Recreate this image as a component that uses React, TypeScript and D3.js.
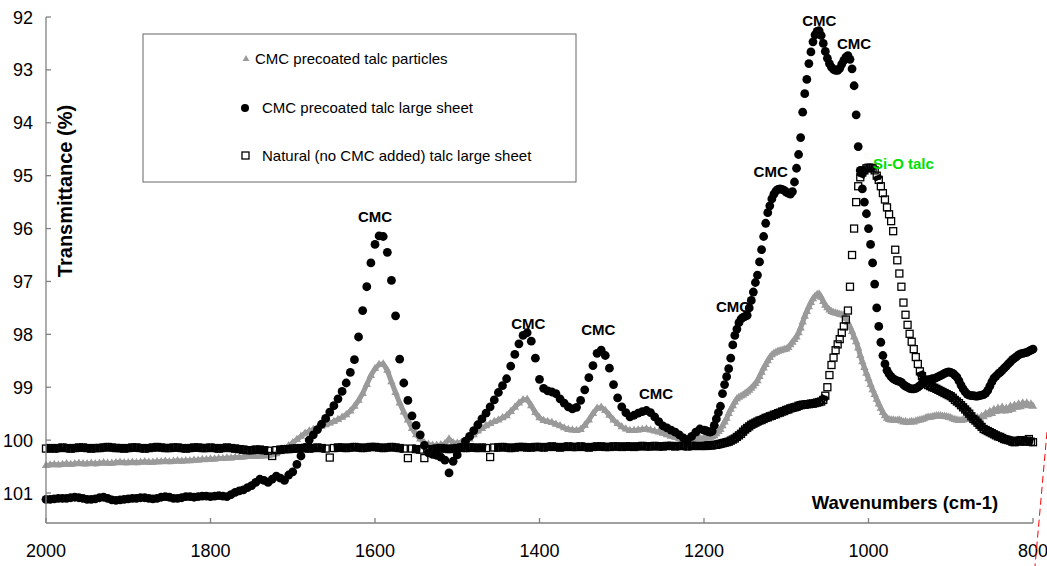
import React from "react";
import * as d3 from "d3";

// x grid: 2000→1200 every 5 cm-1, then 1197.5→800 every 2.5 cm-1
const wavenumbers: number[] = [...d3.range(2000, 1199, -5), ...d3.range(1197.5, 799, -2.5)];

// CMC precoated talc particles (grey triangles)
const particlesValues: number[] = [
  100.48, 100.47, 100.46, 100.47, 100.46, 100.45, 100.46, 100.45, 100.44, 100.45,
  100.45, 100.44, 100.45, 100.44, 100.43, 100.44, 100.44, 100.43, 100.42, 100.43,
  100.43, 100.42, 100.43, 100.42, 100.41, 100.42, 100.42, 100.41, 100.41, 100.40,
  100.41, 100.40, 100.39, 100.40, 100.39, 100.39, 100.38, 100.38, 100.37, 100.37,
  100.36, 100.36, 100.35, 100.35, 100.34, 100.34, 100.33, 100.33, 100.32, 100.31,
  100.31, 100.31, 100.30, 100.30, 100.29, 100.28, 100.26, 100.22, 100.17, 100.11,
  100.05, 99.99, 99.93, 99.87, 99.83, 99.80, 99.77, 99.74, 99.71, 99.68,
  99.65, 99.61, 99.57, 99.52, 99.45, 99.36, 99.25, 99.12, 98.95, 98.78,
  98.65, 98.57, 98.56, 98.68, 98.90, 99.10, 99.30, 99.47, 99.62, 99.78,
  99.90, 99.98, 100.05, 100.08, 100.10, 100.10, 100.09, 100.07, 99.98, 100.05,
  100.06, 100.04, 100.02, 99.98, 99.90, 99.83, 99.78, 99.73, 99.69, 99.65,
  99.62, 99.58, 99.54, 99.46, 99.38, 99.30, 99.24, 99.23, 99.35, 99.48,
  99.58, 99.63, 99.65, 99.67, 99.70, 99.73, 99.77, 99.80, 99.81, 99.82,
  99.80, 99.72, 99.62, 99.50, 99.40, 99.38, 99.44, 99.53, 99.62, 99.69,
  99.75, 99.79, 99.82, 99.82, 99.81, 99.80, 99.79, 99.81, 99.83, 99.85,
  99.87, 99.90, 99.93, 99.95, 99.97, 99.99, 100.00, 99.99, 99.97, 99.96,
  99.96,
  99.96, 99.96, 99.95, 99.94, 99.92, 99.88, 99.84, 99.80, 99.73, 99.66,
  99.59, 99.50, 99.42, 99.35, 99.28, 99.22, 99.19, 99.17, 99.15, 99.12,
  99.09, 99.06, 99.02, 98.98, 98.93, 98.88, 98.80, 98.72, 98.64, 98.57,
  98.50, 98.44, 98.39, 98.36, 98.34, 98.32, 98.31, 98.30, 98.29, 98.28,
  98.25, 98.20, 98.15, 98.10, 98.05, 97.97, 97.88, 97.77, 97.66, 97.57,
  97.48, 97.40, 97.33, 97.28, 97.25, 97.24, 97.30, 97.38, 97.45, 97.50,
  97.54, 97.57, 97.59, 97.60, 97.61, 97.62, 97.63, 97.64, 97.70, 97.78,
  97.86, 97.95, 98.05, 98.14, 98.26, 98.40, 98.52, 98.63, 98.74, 98.84,
  98.95, 99.05, 99.14, 99.23, 99.32, 99.40, 99.48, 99.54, 99.59, 99.61,
  99.62, 99.62, 99.63, 99.63, 99.62, 99.64, 99.66, 99.65, 99.67, 99.66,
  99.65, 99.66, 99.64, 99.63, 99.62, 99.61, 99.60, 99.58, 99.57, 99.57,
  99.56, 99.55, 99.54, 99.54, 99.54, 99.55, 99.55, 99.56, 99.57, 99.58,
  99.60, 99.61, 99.62, 99.63, 99.63, 99.62, 99.61, 99.60, 99.60, 99.61,
  99.60, 99.60, 99.58, 99.60, 99.55, 99.56, 99.50, 99.52, 99.46, 99.50,
  99.42, 99.46, 99.40, 99.44, 99.38, 99.45, 99.40, 99.44, 99.36, 99.42,
  99.34, 99.38, 99.32, 99.37, 99.30, 99.34, 99.30, 99.35, 99.32, 99.36,
];

// CMC precoated talc large sheet (black circles)
const largeSheetValues: number[] = [
  101.12, 101.12, 101.11, 101.10, 101.10, 101.10, 101.09, 101.08, 101.09, 101.10,
  101.12, 101.12, 101.11, 101.09, 101.08, 101.10, 101.13, 101.14, 101.13, 101.12,
  101.11, 101.10, 101.10, 101.09, 101.09, 101.10, 101.11, 101.10, 101.08, 101.07,
  101.08, 101.10, 101.10, 101.09, 101.07, 101.07, 101.08, 101.07, 101.06, 101.06,
  101.07, 101.06, 101.05, 101.06, 101.07, 101.03, 100.99, 100.96, 100.94, 100.90,
  100.86, 100.80, 100.74, 100.76, 100.80, 100.74, 100.68, 100.72, 100.76, 100.66,
  100.60, 100.46, 100.30, 100.14, 100.00, 99.90, 99.80, 99.70, 99.59, 99.47,
  99.35, 99.22, 99.08, 98.92, 98.72, 98.48, 98.05, 97.55, 97.10, 96.65,
  96.30, 96.14, 96.15, 96.45, 96.98, 97.65, 98.47, 98.92, 99.25, 99.54,
  99.72, 99.90, 100.10, 100.24, 100.27, 100.29, 100.32, 100.38, 100.62, 100.40,
  100.28, 100.14, 100.02, 99.93, 99.82, 99.71, 99.60, 99.49, 99.37, 99.24,
  99.10, 98.97, 98.84, 98.60, 98.38, 98.18, 98.02, 97.97, 98.13, 98.45,
  98.85, 99.02, 99.07, 99.09, 99.12, 99.22, 99.30, 99.37, 99.41, 99.38,
  99.25, 99.05, 98.82, 98.59, 98.36, 98.30, 98.40, 98.64, 98.95, 99.20,
  99.37, 99.48, 99.56, 99.53, 99.49, 99.46, 99.44, 99.48, 99.56, 99.65,
  99.73, 99.77, 99.81, 99.85, 99.90, 99.96, 99.99, 99.93, 99.85, 99.79,
  99.81,
  99.82, 99.84, 99.85, 99.83, 99.72, 99.60, 99.48, 99.36, 99.12, 98.95,
  98.80, 98.65, 98.45, 98.20, 98.02, 97.90, 97.78, 97.71, 97.68, 97.66,
  97.64, 97.50, 97.36, 97.20, 97.02, 96.88, 96.63, 96.40, 96.15, 95.90,
  95.70, 95.57, 95.44, 95.35, 95.29, 95.26, 95.25, 95.26, 95.28, 95.31,
  95.33, 95.35, 95.30, 95.12, 94.86, 94.60, 94.28, 93.80, 93.45, 93.18,
  92.88, 92.66, 92.47, 92.34, 92.27, 92.26, 92.35, 92.50, 92.65, 92.78,
  92.88, 92.95, 92.99, 93.01, 93.01, 92.97, 92.89, 92.82, 92.76, 92.73,
  92.80, 92.98, 93.30, 93.85, 94.45, 94.90, 95.25, 95.50, 95.72, 96.00,
  96.30, 96.65, 97.05, 97.50, 97.85, 98.15, 98.40, 98.56, 98.68, 98.75,
  98.80, 98.84, 98.86, 98.88, 98.89, 98.91, 98.95, 98.98, 99.00, 99.02,
  99.03, 99.03, 99.02, 99.00, 98.97, 98.93, 98.90, 98.88, 98.86, 98.85,
  98.84, 98.84, 98.82, 98.80, 98.78, 98.76, 98.74, 98.72, 98.71, 98.72,
  98.74, 98.77, 98.81, 98.88, 98.96, 99.03, 99.09, 99.13, 99.15, 99.16,
  99.16, 99.17, 99.17, 99.16, 99.15, 99.14, 99.11, 99.06, 98.98, 98.90,
  98.83, 98.79, 98.75, 98.72, 98.68, 98.64, 98.60, 98.56, 98.52, 98.48,
  98.45, 98.42, 98.39, 98.37, 98.36, 98.35, 98.34, 98.32, 98.30, 98.28,
];

// Natural (no CMC added) talc large sheet (open squares)
const naturalValues: number[] = [
  100.16, 100.15, 100.16, 100.15, 100.14, 100.15, 100.16, 100.15, 100.14, 100.14,
  100.15, 100.16, 100.15, 100.15, 100.14, 100.13, 100.14, 100.15, 100.15, 100.16,
  100.15, 100.14, 100.14, 100.15, 100.16, 100.15, 100.14, 100.13, 100.14, 100.15,
  100.15, 100.14, 100.14, 100.15, 100.16, 100.15, 100.14, 100.14, 100.15, 100.15,
  100.14, 100.15, 100.16, 100.15, 100.14, 100.15, 100.16, 100.17, 100.18, 100.19,
  100.19, 100.18, 100.18, 100.19, 100.20, 100.30, 100.19, 100.18, 100.17, 100.17,
  100.16, 100.16, 100.15, 100.15, 100.16, 100.15, 100.14, 100.15, 100.16, 100.33,
  100.15, 100.14, 100.14, 100.15, 100.14, 100.13, 100.14, 100.15, 100.14, 100.13,
  100.13, 100.14, 100.15, 100.14, 100.13, 100.14, 100.15, 100.16, 100.34, 100.16,
  100.17, 100.18, 100.34, 100.18, 100.17, 100.16, 100.15, 100.16, 100.17, 100.16,
  100.15, 100.14, 100.15, 100.14, 100.14, 100.15, 100.14, 100.15, 100.32, 100.14,
  100.14, 100.13, 100.14, 100.15, 100.14, 100.13, 100.13, 100.14, 100.14, 100.13,
  100.13, 100.14, 100.13, 100.12, 100.13, 100.14, 100.13, 100.12, 100.13, 100.13,
  100.12, 100.13, 100.14, 100.13, 100.12, 100.12, 100.13, 100.13, 100.12, 100.12,
  100.13, 100.12, 100.12, 100.13, 100.12, 100.11, 100.12, 100.12, 100.11, 100.12,
  100.12, 100.11, 100.11, 100.12, 100.11, 100.11, 100.12, 100.11, 100.11, 100.11,
  100.11,
  100.11, 100.10, 100.10, 100.10, 100.09, 100.09, 100.08, 100.07, 100.06, 100.05,
  100.04, 100.03, 100.01, 99.99, 99.97, 99.94, 99.91, 99.88, 99.84, 99.80,
  99.77, 99.74, 99.71, 99.69, 99.67, 99.65, 99.63, 99.62, 99.60, 99.58,
  99.57, 99.55, 99.54, 99.52, 99.51, 99.49, 99.48, 99.46, 99.45, 99.43,
  99.42, 99.40, 99.39, 99.38, 99.37, 99.35, 99.34, 99.33, 99.33, 99.32,
  99.32, 99.31, 99.31, 99.30, 99.29, 99.28, 99.27, 99.24, 99.16, 99.00,
  98.77, 98.58, 98.44, 98.30, 98.19, 98.09, 97.97, 97.85, 97.72, 97.55,
  97.10, 96.50, 96.00, 95.50, 95.20, 95.03, 94.94, 94.90, 94.86, 94.85,
  94.85, 94.86, 94.90, 95.00, 95.08, 95.20, 95.33, 95.45, 95.60, 95.73,
  95.86, 96.05, 96.40, 96.60, 96.85, 97.10, 97.40, 97.63, 97.82, 97.99,
  98.14, 98.28, 98.43, 98.56, 98.70, 98.79, 98.86, 98.92, 98.96, 98.98,
  99.00, 99.01, 99.03, 99.05, 99.07, 99.09, 99.11, 99.13, 99.15, 99.17,
  99.20, 99.24, 99.27, 99.30, 99.34, 99.38, 99.42, 99.46, 99.50, 99.55,
  99.60, 99.63, 99.67, 99.71, 99.75, 99.79, 99.81, 99.83, 99.85, 99.87,
  99.89, 99.91, 99.93, 99.94, 99.96, 99.98, 99.99, 100.00, 100.01, 100.03,
  100.04, 100.03, 100.01, 100.00, 100.02, 100.03, 100.01, 99.98, 100.03, 100.04,
];

const xTicks: number[] = [2000, 1800, 1600, 1400, 1200, 1000, 800];
const yTicks: number[] = [92, 93, 94, 95, 96, 97, 98, 99, 100, 101];

const legendLabels: string[] = [
  "CMC precoated talc particles",
  "CMC precoated talc large sheet",
  "Natural (no CMC added) talc large sheet",
];

// annotation text, anchored at [wavenumber, transmittance]
const annotationTexts: string[] = ["CMC", "CMC", "CMC", "CMC", "CMC", "CMC", "CMC", "CMC"];
const annotationWave: number[] = [1600, 1413.6, 1328.5, 1258.4, 1164.7, 1118.9, 1059.8, 1017.6];
const annotationValue: number[] = [95.78, 97.8, 97.92, 99.12, 97.48, 94.92, 92.07, 92.5];
const siOLabel = { text: "Si-O talc", wave: 994.5, value: 94.78 };

const FONT = "Arial, 'Liberation Sans', Helvetica, sans-serif";
const W = 1047;
const H = 566;
const GREY = "#9a9a9a";

export default function App() {
  const x = d3.scaleLinear().domain([2000, 800]).range([46, 1033]);
  const y = d3.scaleLinear().domain([92, 101]).range([17, 493]);
  const axisY = 523;
  const axisTop = y(92);

  const tri = d3.symbol().type(d3.symbolTriangle).size(30)() as string;
  const triLegend = d3.symbol().type(d3.symbolTriangle).size(20)() as string;

  const greyLine = d3
    .line<number>()
    .x((_, i) => x(wavenumbers[i]))
    .y((v) => y(v))(particlesValues) as string;

  const sqPts = wavenumbers.map((w, i) => [x(w), y(naturalValues[i])]);
  const sqSegs: number[][] = [];
  for (let i = 1; i < sqPts.length; i++) {
    const dx = sqPts[i][0] - sqPts[i - 1][0];
    const dy = sqPts[i][1] - sqPts[i - 1][1];
    if (Math.hypot(dx, dy) < 5.5) sqSegs.push([sqPts[i - 1][0], sqPts[i - 1][1], sqPts[i][0], sqPts[i][1]]);
  }
  const sqSide = 7;

  return (
    <svg width={W} height={H} style={{ position: "absolute", left: 0, top: 0, background: "#fff" }} fontFamily={FONT}>
      <rect x={0} y={0} width={W} height={H} fill="#fff" />

      {/* grey triangles */}
      <path d={greyLine} fill="none" stroke={GREY} strokeWidth={5} strokeLinejoin="round" />
      <g fill={GREY}>
        {wavenumbers.map((w, i) => (
          <path key={i} d={tri} transform={`translate(${x(w)},${y(particlesValues[i])})`} />
        ))}
      </g>

      {/* black circles */}
      <g fill="#000">
        {wavenumbers.map((w, i) => (
          <circle key={i} cx={x(w)} cy={y(largeSheetValues[i])} r={4.4} />
        ))}
      </g>

      {/* open squares */}
      <g stroke="#000" fill="none">
        {sqSegs.map((s, i) => (
          <line key={"s" + i} x1={s[0]} y1={s[1]} x2={s[2]} y2={s[3]} strokeWidth={sqSide + 1.3} />
        ))}
        {sqPts.map((p, i) => (
          <rect key={i} x={p[0] - sqSide / 2} y={p[1] - sqSide / 2} width={sqSide} height={sqSide} strokeWidth={1.3} />
        ))}
      </g>

      {/* axes */}
      <g stroke="#808080" strokeWidth={1.3}>
        <line x1={x(2000)} y1={axisTop} x2={x(2000)} y2={axisY} />
        <line x1={x(2000)} y1={axisY} x2={x(800)} y2={axisY} />
        {yTicks.map((t) => (
          <line key={t} x1={x(2000)} y1={y(t)} x2={x(2000) + 5} y2={y(t)} />
        ))}
        {xTicks.map((t) => (
          <line key={t} x1={x(t)} y1={axisY} x2={x(t)} y2={axisY - 5} />
        ))}
      </g>
      <g fontSize={18} fill="#000">
        {yTicks.map((t) => (
          <text key={t} x={33} y={y(t) + 6.5} textAnchor="end">{t}</text>
        ))}
        {xTicks.map((t) => (
          <text key={t} x={x(t)} y={556.5} textAnchor="middle">{t}</text>
        ))}
      </g>

      <text transform="translate(65,191) rotate(-90)" textAnchor="middle" dy="0.35em" fontSize={20} fontWeight="bold">
        Transmittance (%)
      </text>
      <text x={905} y={509} textAnchor="middle" fontSize={18.5} fontWeight="bold">
        Wavenumbers (cm-1)
      </text>

      {/* annotations */}
      <g fontSize={15} fontWeight="bold" fill="#000">
        {annotationTexts.map((t, i) => (
          <text key={i} x={x(annotationWave[i])} y={y(annotationValue[i])} dy="0.35em" textAnchor="middle">{t}</text>
        ))}
      </g>
      <text x={x(siOLabel.wave)} y={y(siOLabel.value)} dy="0.35em" fontSize={15} fontWeight="bold" fill="#00e000">
        {siOLabel.text}
      </text>

      {/* legend */}
      <rect x={143} y={34} width={433} height={148} fill="#fff" stroke="#666" strokeWidth={1} />
      <path d={triLegend} transform="translate(246,59)" fill={GREY} />
      <circle cx={245} cy={108} r={4} fill="#000" />
      <rect x={242} y={152} width={7} height={7} fill="none" stroke="#000" strokeWidth={1.3} />
      <g fontSize={15} fill="#000">
        <text x={255} y={59 + 5.4}>{legendLabels[0]}</text>
        <text x={262} y={108 + 5.4}>{legendLabels[1]}</text>
        <text x={262} y={155.5 + 5.4}>{legendLabels[2]}</text>
      </g>

      {/* red dashed stray line */}
      <line x1={1047} y1={432} x2={1035} y2={566} stroke="#ff0000" strokeWidth={1} strokeDasharray="7 4" />
    </svg>
  );
}
